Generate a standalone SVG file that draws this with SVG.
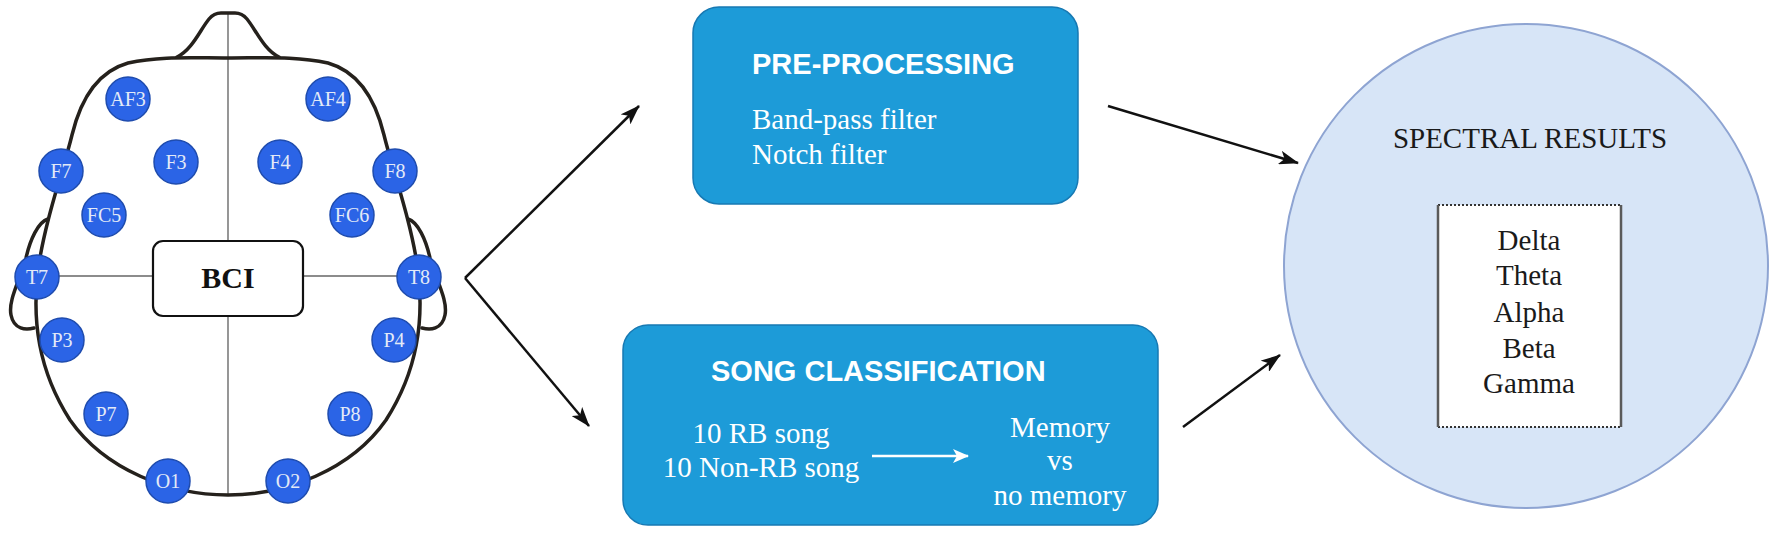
<svg xmlns="http://www.w3.org/2000/svg" width="1772" height="534" viewBox="0 0 1772 534">
<defs>
<style>
.head{fill:none;stroke:#25211c;stroke-width:3.5;stroke-linejoin:round;stroke-linecap:round}
.guide{stroke:#8c8c8c;stroke-width:1.8;fill:none}
.el circle{fill:#2b64e6;stroke:#1f4cae;stroke-width:1.5}
.el text{font-family:"Liberation Serif","Times New Roman",serif;font-size:20px;fill:#e3eaf7;text-anchor:middle}
.conn{stroke:#111;stroke-width:2.5;fill:none}
.box{fill:#1d9bd8;stroke:#1779b3;stroke-width:1.5}
.h{font-family:"Liberation Sans",Arial,sans-serif;font-weight:bold;font-size:29px;fill:#ffffff}
.w{font-family:"Liberation Serif","Times New Roman",serif;font-size:29px;fill:#ffffff}
.k{font-family:"Liberation Serif","Times New Roman",serif;font-size:29px;fill:#1a1a1a;text-anchor:middle}
</style>
<marker id="ah" viewBox="0 0 20 14" refX="19" refY="7" markerWidth="20" markerHeight="14" markerUnits="userSpaceOnUse" orient="auto">
<path d="M0,0 L20,7 L0,14 L5,7 Z" fill="#111"/>
</marker>
<marker id="ahw" viewBox="0 0 16 14" refX="15" refY="7" markerWidth="16" markerHeight="14" markerUnits="userSpaceOnUse" orient="auto">
<path d="M0,0 L16,7 L0,14 L4,7 Z" fill="#ffffff"/>
</marker>
</defs>
<rect width="1772" height="534" fill="#ffffff"/>

<g id="head">
<path class="guide" d="M228 13 V241 M228 316 V495 M37 276 H153 M303 276 H418"/>
<path class="head" d="M48 219 C38 222 30 240 26 258 C20 280 8 300 11 315 C14 330 26 330 34 328"/>
<path class="head" d="M408 219 C418 222 426 240 430 258 C436 280 448 300 445 315 C442 330 430 330 422 328"/>
<path class="head" d="M228 58 C190 58 160 56 128 63 C96 72 80 102 72 135 C64 168 45 220 38 270 C32 320 38 370 70 420 C105 470 170 495 228 495 C286 495 351 470 386 420 C418 370 424 320 418 270 C411 220 392 168 384 135 C376 102 360 72 328 63 C296 56 266 58 228 58 Z"/>
<path class="head" d="M177 57 C192 50 200 30 209 19 Q214 13 221 13 L235 13 Q242 13 247 19 C256 30 264 50 279 57"/>
</g>

<g id="electrodes" class="el">
<g id="AF3"><circle cx="128" cy="99" r="22"/><text x="128" y="106">AF3</text></g>
<g id="AF4"><circle cx="328" cy="99" r="22"/><text x="328" y="106">AF4</text></g>
<g id="F3"><circle cx="176" cy="162" r="22"/><text x="176" y="169">F3</text></g>
<g id="F4"><circle cx="280" cy="162" r="22"/><text x="280" y="169">F4</text></g>
<g id="F7"><circle cx="61" cy="171" r="22"/><text x="61" y="178">F7</text></g>
<g id="F8"><circle cx="395" cy="171" r="22"/><text x="395" y="178">F8</text></g>
<g id="FC5"><circle cx="104" cy="215" r="22"/><text x="104" y="222">FC5</text></g>
<g id="FC6"><circle cx="352" cy="215" r="22"/><text x="352" y="222">FC6</text></g>
<g id="T7"><circle cx="37" cy="277" r="22"/><text x="37" y="284">T7</text></g>
<g id="T8"><circle cx="419" cy="277" r="22"/><text x="419" y="284">T8</text></g>
<g id="P3"><circle cx="62" cy="340" r="22"/><text x="62" y="347">P3</text></g>
<g id="P4"><circle cx="394" cy="340" r="22"/><text x="394" y="347">P4</text></g>
<g id="P7"><circle cx="106" cy="414" r="22"/><text x="106" y="421">P7</text></g>
<g id="P8"><circle cx="350" cy="414" r="22"/><text x="350" y="421">P8</text></g>
<g id="O1"><circle cx="168" cy="481" r="22"/><text x="168" y="488">O1</text></g>
<g id="O2"><circle cx="288" cy="481" r="22"/><text x="288" y="488">O2</text></g>
</g>

<g id="bci">
<rect x="153" y="241" width="150" height="75" rx="10" fill="#ffffff" stroke="#111" stroke-width="2.2"/>
<text x="228" y="288" font-family="'Liberation Serif','Times New Roman',serif" font-size="30" font-weight="bold" fill="#111" text-anchor="middle">BCI</text>
</g>

<g id="connectors">
<line class="conn" x1="465" y1="278" x2="639" y2="106" marker-end="url(#ah)"/>
<line class="conn" x1="465" y1="278" x2="589" y2="426" marker-end="url(#ah)"/>
<line class="conn" x1="1108" y1="106" x2="1298" y2="163" marker-end="url(#ah)"/>
<line class="conn" x1="1183" y1="427" x2="1280" y2="355" marker-end="url(#ah)"/>
</g>

<g id="preprocessing">
<rect class="box" x="693" y="7" width="385" height="197" rx="26"/>
<text class="h" x="752" y="74">PRE-PROCESSING</text>
<text class="w" x="752" y="129">Band-pass filter</text>
<text class="w" x="752" y="164">Notch filter</text>
</g>

<g id="song">
<rect class="box" x="623" y="325" width="535" height="200" rx="25"/>
<text class="h" x="711" y="381">SONG CLASSIFICATION</text>
<text class="w" x="761" y="443" text-anchor="middle">10 RB song</text>
<text class="w" x="761" y="477" text-anchor="middle">10 Non-RB song</text>
<line x1="872" y1="456" x2="968" y2="456" stroke="#ffffff" stroke-width="2.5" marker-end="url(#ahw)"/>
<text class="w" x="1060" y="437" font-size="28" text-anchor="middle">Memory</text>
<text class="w" x="1060" y="470" font-size="28" text-anchor="middle">vs</text>
<text class="w" x="1060" y="505" font-size="28" text-anchor="middle">no memory</text>
</g>

<g id="spectral">
<circle cx="1526" cy="266" r="242" fill="#d7e5f7" stroke="#8ea4d2" stroke-width="2"/>
<text class="k" x="1530" y="148" font-size="31">SPECTRAL RESULTS</text>
<rect x="1438" y="205" width="183" height="222" fill="#ffffff"/>
<path d="M1438 205 H1621 M1438 427 H1621" stroke="#333" stroke-width="2" stroke-dasharray="2 2" fill="none"/>
<path d="M1438 205 V427 M1621 205 V427" stroke="#5a5a5a" stroke-width="2.5" fill="none"/>
<text class="k" x="1529" y="250">Delta</text>
<text class="k" x="1529" y="285">Theta</text>
<text class="k" x="1529" y="322">Alpha</text>
<text class="k" x="1529" y="358">Beta</text>
<text class="k" x="1529" y="393">Gamma</text>
</g>
</svg>
